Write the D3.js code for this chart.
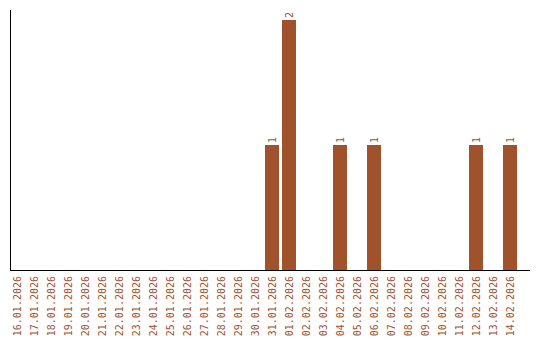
<!DOCTYPE html>
<html>
<head>
<meta charset="utf-8">
<script src="https://cdn.jsdelivr.net/npm/d3@7"></script>
<style>
  body { margin: 0; background: #fff; }
  svg { display: block; }
</style>
</head>
<body>
<svg id="chart" width="540" height="340"></svg>
<script>
const dates = [
  "16.01.2026", "17.01.2026", "18.01.2026", "19.01.2026", "20.01.2026",
  "21.01.2026", "22.01.2026", "23.01.2026", "24.01.2026", "25.01.2026",
  "26.01.2026", "27.01.2026", "28.01.2026", "29.01.2026", "30.01.2026",
  "31.01.2026", "01.02.2026", "02.02.2026", "03.02.2026", "04.02.2026",
  "05.02.2026", "06.02.2026", "07.02.2026", "08.02.2026", "09.02.2026",
  "10.02.2026", "11.02.2026", "12.02.2026", "13.02.2026", "14.02.2026"
];
const counts = [
  0, 0, 0, 0, 0, 0, 0, 0, 0, 0,
  0, 0, 0, 0, 0, 1, 2, 0, 0, 1,
  0, 1, 0, 0, 0, 0, 0, 1, 0, 1
];

const data = dates.map((d, i) => ({ date: d, count: counts[i] }));
const color = "#a0522d";
const font = "'DejaVu Sans Mono', monospace";

const svg = d3.select("#chart");

// plot area
const plotLeft = 10, plotRight = 530, plotTop = 10, plotBottom = 270;

const x = d3.scaleBand()
  .domain(dates)
  .range([10, 517])
  .paddingInner(3 / 17)
  .paddingOuter(0);

const y = d3.scaleLinear()
  .domain([0, 2])
  .range([plotBottom, 20]);

// bars
svg.selectAll(".bar")
  .data(data)
  .enter().append("rect")
  .attr("class", "bar")
  .attr("x", d => x(d.date))
  .attr("y", d => y(d.count))
  .attr("width", x.bandwidth())
  .attr("height", d => y(0) - y(d.count))
  .attr("fill", color);

// value labels, rotated like the axis labels
svg.selectAll(".bar-label")
  .data(data.filter(d => d.count > 0))
  .enter().append("text")
  .attr("class", "bar-label")
  .attr("transform", d => `translate(${x(d.date) + x.bandwidth() / 2}, ${y(d.count) - 2}) rotate(-90)`)
  .attr("dy", "0.35em")
  .attr("text-anchor", "start")
  .attr("fill", color)
  .style("font-family", font)
  .style("font-size", "10px")
  .text(d => d.count);

// x axis labels
const xAxis = d3.axisBottom(x).tickSize(0).tickSizeOuter(0);
const gx = svg.append("g")
  .attr("transform", `translate(0, ${plotBottom})`)
  .call(xAxis);
gx.select(".domain").remove();
gx.selectAll("text")
  .attr("transform", "rotate(-90)")
  .attr("text-anchor", "end")
  .attr("x", -6)
  .attr("y", 0)
  .attr("dy", "0.35em")
  .attr("fill", color)
  .style("font-family", font)
  .style("font-size", "10px");

// axis lines
svg.append("line")
  .attr("x1", plotLeft + 0.5).attr("x2", plotLeft + 0.5)
  .attr("y1", plotTop).attr("y2", plotBottom + 1)
  .attr("stroke", "#000");
svg.append("line")
  .attr("x1", plotLeft).attr("x2", plotRight)
  .attr("y1", plotBottom + 0.5).attr("y2", plotBottom + 0.5)
  .attr("stroke", "#000");
</script>
</body>
</html>
